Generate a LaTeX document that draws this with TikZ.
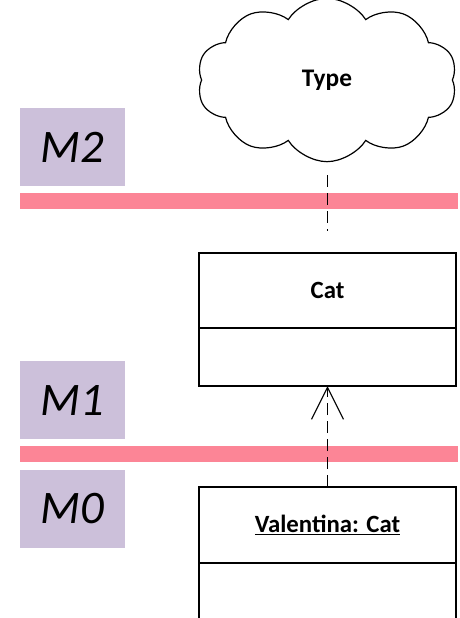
\documentclass[tikz,border=0pt]{standalone}
\usepackage{fontspec}
\setmainfont{Carlito}
\usepackage{tikz}
\usetikzlibrary{shapes.symbols,arrows.meta}

\definecolor{levelfill}{RGB}{204,192,218}
\definecolor{levelbar}{RGB}{252,133,150}

\tikzset{
  level/.style={fill=levelfill, inner sep=0pt, outer sep=0pt, minimum width=78.75pt, minimum height=58.5pt, font=\fontsize{35}{38}\selectfont\itshape},
  bar/.style={fill=levelbar},
  classbox/.style={draw, line width=0.9pt, inner sep=0pt, outer sep=0pt, minimum width=192.75pt, font=\fontsize{18.6}{21}\selectfont\bfseries},
  dashline/.style={line width=0.9pt, dash pattern=on 9pt off 4.5pt},
}

\begin{document}
\begin{tikzpicture}[x=0.75pt, y=-0.75pt]
\useasboundingbox (0,0) rectangle (460,618);
\clip (0,0) rectangle (460,618);
% meta levels
\node[level] (m2) at (72.5,147) {M2};
\node[level] (m1) at (72.5,400) {M1};
\node[level] (m0) at (72.5,509) {M0};
\fill[bar] (20,193) rectangle (458,209);
\fill[bar] (20,446) rectangle (458,462);
% type cloud
\node[cloud, draw, line width=0.9pt, cloud puffs=10, cloud puff arc=115, cloud ignores aspect, minimum width=195pt, minimum height=122.5pt, inner sep=0pt, font=\fontsize{19}{22}\selectfont\bfseries] (type) at (327,80) {Type};
% class and instance
\node[classbox, minimum height=56.25pt] (cattitle) at (327.5,290.5) {Cat};
\node[classbox, minimum height=43.5pt, anchor=north] (catbody) at (cattitle.south) {};
\node[classbox, minimum height=57pt] (valtitle) at (327.5,525) {\underline{Valentina: Cat}};
\node[classbox, minimum height=70pt, anchor=north] (valbody) at (valtitle.south) {};
% links
\coordinate (typelink) at ([yshift=58.5pt]cattitle.north);
\coordinate (catlink) at ([yshift=16.5pt]cattitle.north);
\draw[dashline] (typelink) -- (catlink);
\draw[dashline, -{Straight Barb[length=24pt, width=24pt, line width=0.9pt]}] (valtitle.north) -- (catbody.south);
\end{tikzpicture}
\end{document}
